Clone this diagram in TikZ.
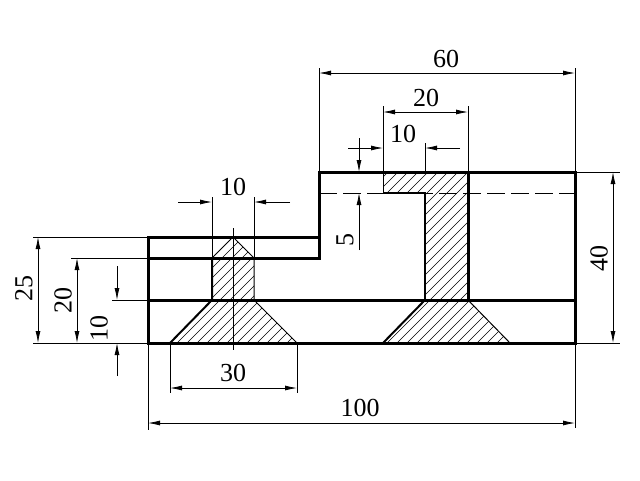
\documentclass[tikz,border=0pt]{standalone}
\usepackage{fontspec}
\setmainfont{Liberation Serif}
\usetikzlibrary{arrows.meta}
\tikzset{
  part/.style={line width=3pt, line cap=rect},
  edge/.style={line width=2pt},
  thin edge/.style={line width=1pt},
  dim/.style={line width=0.8pt, >={Latex[length=12pt,width=5pt]}},
  dimtext/.style={inner sep=0pt, font=\fontsize{26}{26}\selectfont},
  hatchline/.style={line width=0.6pt}
}
\newcommand{\hatchfill}[1]{%
  \begin{scope}
    \clip #1;
    \foreach \c in {0,10,...,1100}
      \draw[hatchline] (\c,480) -- ++(480,-480);
  \end{scope}}
\begin{document}
\begin{tikzpicture}[x=1pt, y=-1pt]
  \useasboundingbox (0,0) rectangle (640,480);

  % hatched sections
  \hatchfill{(233,237) -- (254,258) -- (254,300) -- (297,343) -- (170,343) -- (212,300) -- (212,258) -- cycle}
  \hatchfill{(383,172) -- (468,172) -- (468,300) -- (510,343) -- (383,343) -- (425,300) -- (425,193) -- (383,193) -- cycle}

  % outline
  \draw[part] (148,237) -- (319,237) -- (319,172) -- (575,172) -- (575,343) -- (148,343) -- cycle;
  \draw[part] (148,258) -- (319,258) -- (319,237);
  \draw[part] (148,300) -- (575,300);

  % hole left
  \draw[edge] (212,258) -- (212,300) -- (170,343);
  \draw[thin edge] (212,258) -- (233,237) -- (254,258) -- (254,300) -- (297,343);
  \draw[dim] (233,228) -- (233,350);

  % hole right
  \draw[edge] (383,193) -- (425,193) -- (425,300);
  \draw[part] (468,172) -- (468,300);
  \draw[edge] (425,300) -- (383,343);
  \draw[thin edge] (468,300) -- (510,343);
  \draw[dim] (383,172) -- (383,193);
  \draw[dim, dash pattern=on 18pt off 6pt] (319,193) -- (575,193);

  % dimensions top
  \draw[dim] (319,172) -- (319,68);
  \draw[dim] (575,172) -- (575,68);
  \draw[dim,<->] (319,73) -- (575,73);
  \node[dimtext] (d60) at (446,59) {60};
  \draw[dim] (383,172) -- (383,106);
  \draw[dim] (468,172) -- (468,106);
  \draw[dim,<->] (383,112) -- (468,112);
  \node[dimtext] (d20top) at (426,98) {20};
  \draw[dim] (425,172) -- (425,143);
  \draw[dim,->] (348,148) -- (383,148);
  \draw[dim,->] (460,148) -- (425,148);
  \node[dimtext] (d10top) at (403,134) {10};
  \draw[dim,->] (359,138) -- (359,172);
  \draw[dim,->] (359,250) -- (359,193);
  \node[dimtext, rotate=90] (d5) at (345,240) {5};
  \draw[dim] (575,172) -- (620,172);
  \draw[dim] (575,343) -- (620,343);
  \draw[dim,<->] (613,172) -- (613,343);
  \node[dimtext, rotate=90] (d40) at (599,258) {40};

  % dimensions left
  \draw[dim] (212,258) -- (212,197);
  \draw[dim] (254,258) -- (254,197);
  \draw[dim,->] (178,202) -- (212,202);
  \draw[dim,->] (290,202) -- (254,202);
  \node[dimtext] (d10hole) at (233,187) {10};
  \draw[dim] (148,237) -- (33,237);
  \draw[dim] (148,343) -- (33,343);
  \draw[dim,<->] (38,237) -- (38,343);
  \node[dimtext, rotate=90] (d25) at (24,288) {25};
  \draw[dim] (148,258) -- (71,258);
  \draw[dim,<->] (77,258) -- (77,343);
  \node[dimtext, rotate=90] (d20left) at (63,300) {20};
  \draw[dim] (148,300) -- (112,300);
  \draw[dim,->] (117,266) -- (117,300);
  \draw[dim,->] (117,376) -- (117,343);
  \node[dimtext, rotate=90] (d10left) at (99,328) {10};

  % dimensions bottom
  \draw[dim] (170,343) -- (170,393);
  \draw[dim] (297,343) -- (297,393);
  \draw[dim,<->] (170,388) -- (297,388);
  \node[dimtext] (d30) at (233,373) {30};
  \draw[dim] (148,343) -- (148,430);
  \draw[dim] (575,343) -- (575,428);
  \draw[dim,<->] (148,423) -- (575,423);
  \node[dimtext] (d100) at (360,408) {100};
\end{tikzpicture}
\end{document}
